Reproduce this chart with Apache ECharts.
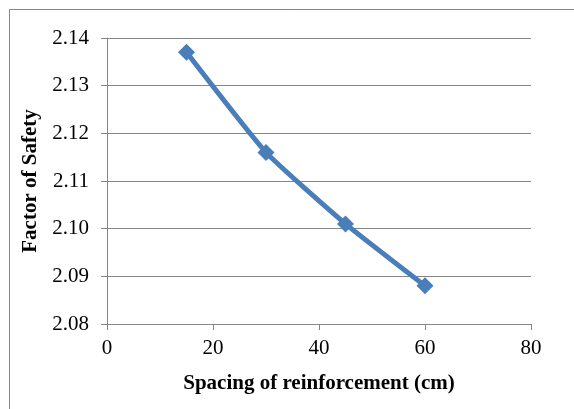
<!DOCTYPE html>
<html>
<head>
<meta charset="utf-8">
<script src="https://cdn.jsdelivr.net/npm/echarts@6/dist/echarts.min.js"></script>
<style>
  html, body { margin: 0; padding: 0; background: #fff; }
  #chart { width: 574px; height: 409px; }
</style>
</head>
<body>
<div id="chart"></div>
<script>
// Spacing of reinforcement (cm) against factor of safety
const spacing = [15, 30, 45, 60];
const factorOfSafety = [2.137, 2.116, 2.101, 2.088];
const xTitle = 'Spacing of reinforcement (cm)';
const yTitle = 'Factor of Safety';

const points = spacing.map((s, i) => [s, factorOfSafety[i]]);
const axisGray = '#868686';
const font = '"Liberation Serif", "Times New Roman", serif';

const chart = echarts.init(document.getElementById('chart'), null, { renderer: 'canvas' });
chart.setOption({
  backgroundColor: '#fff',
  animation: false,
  graphic: [{
    type: 'rect',
    shape: { x: 9.5, y: 9.5, width: 600, height: 450 },
    style: { fill: 'none', stroke: axisGray, lineWidth: 1 },
    silent: true
  }],
  grid: { left: 107, top: 38, right: 43, bottom: 85 },
  xAxis: {
    type: 'value',
    min: 0, max: 80, interval: 20,
    name: xTitle,
    nameLocation: 'middle',
    nameGap: 49,
    nameTextStyle: { fontFamily: font, fontSize: 21, fontWeight: 'bold', color: '#000' },
    axisLine: { show: true, lineStyle: { color: axisGray, width: 1 } },
    axisTick: { show: true, inside: false, length: 6, lineStyle: { color: axisGray } },
    axisLabel: { margin: 14, fontFamily: font, fontSize: 21, color: '#000' },
    splitLine: { show: false }
  },
  yAxis: {
    type: 'value',
    min: 2.08, max: 2.14, interval: 0.01,
    name: yTitle,
    nameLocation: 'middle',
    nameRotate: 90,
    nameGap: 62,
    nameTextStyle: { fontFamily: font, fontSize: 21, fontWeight: 'bold', color: '#000' },
    axisLine: { show: true, lineStyle: { color: axisGray, width: 1 } },
    axisTick: { show: true, inside: false, length: 6, lineStyle: { color: axisGray } },
    axisLabel: {
      margin: 18, fontFamily: font, fontSize: 21, color: '#000',
      formatter: v => v.toFixed(2)
    },
    splitLine: { show: true, lineStyle: { color: axisGray, width: 1 } }
  },
  series: [{
    type: 'line',
    data: points,
    smooth: 0.15,
    symbol: 'diamond',
    symbolSize: 17,
    itemStyle: { color: '#4a7ebb' },
    lineStyle: { color: '#4a7ebb', width: 5 }
  }]
});
</script>
</body>
</html>
